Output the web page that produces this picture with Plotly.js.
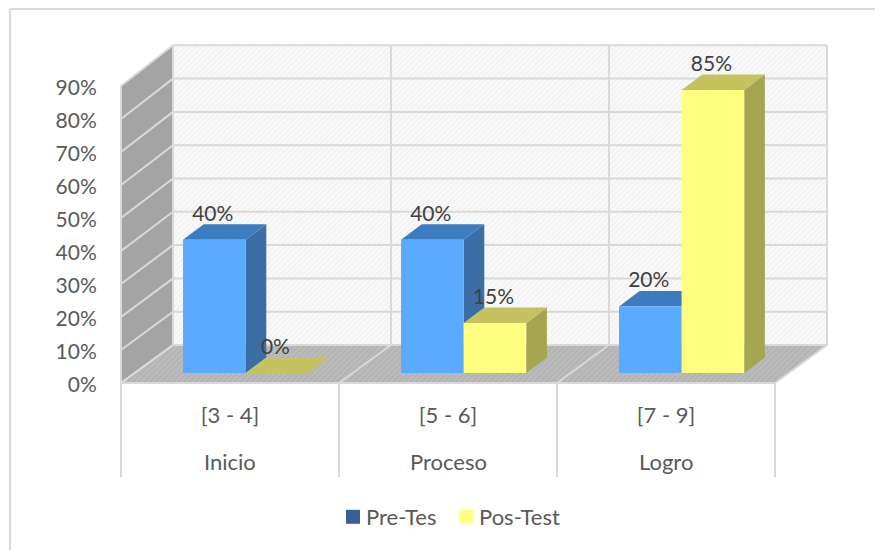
<!DOCTYPE html>
<html>
<head>
<meta charset="utf-8">
<script src="https://cdn.plot.ly/plotly-3.0.1.min.js"></script>
<style>html,body{margin:0;padding:0;background:#fff}#chart{width:875px;height:550px}</style>
</head>
<body>
<div id="chart"></div>
<script>
const categories = ['[3 - 4]', '[5 - 6]', '[7 - 9]'];
const groups = ['Inicio', 'Proceso', 'Logro'];
const preTes = [40, 40, 20];
const posTest = [0, 15, 85];
const tickValues = [0, 10, 20, 30, 40, 50, 60, 70, 80, 90];
const tickLabels = tickValues.map(v => v + '%');
const seriesNames = ['Pre-Tes', 'Pos-Test'];

const W = 875, H = 550;
const FONT = 'Lato, "Open Sans", sans-serif';
const X = px => (px - 230) / 218;
const XW = px => px / 218;
const BAR_SCALE = 3.33, BAR_BASE = 373;
const Y = px => (BAR_BASE - px) / BAR_SCALE;
const TICK_SCALE = 3.3, TICK_BASE = 385;
const xRange = [X(0), X(W)];
const yRange = [Y(H), Y(0)];
const y3Range = [(TICK_BASE - H) / TICK_SCALE, TICK_BASE / TICK_SCALE];
const backY = v => Y(345) + v;
const frontY = v => Y(383 - TICK_SCALE * v);
const barW = XW(62.6), depthX = XW(20.7), depthY = 15.5 / BAR_SCALE;
const preLeft = i => X(183) + i, posLeft = i => X(245.6) + i;

function poly(points, color, pattern) {
  const t = {x: points.map(p => p[0]), y: points.map(p => p[1]), mode: 'none', fill: 'toself',
    fillcolor: color, showlegend: false, hoverinfo: 'skip', xaxis: 'x', yaxis: 'y'};
  if (pattern) t.fillpattern = pattern;
  return t;
}
function lines(segs, color, width) {
  const xs = [], ys = [];
  segs.forEach(s => { xs.push(s[0][0], s[1][0], null); ys.push(s[0][1], s[1][1], null); });
  return {x: xs, y: ys, mode: 'lines', line: {color, width}, showlegend: false, hoverinfo: 'skip', xaxis: 'x', yaxis: 'y'};
}
function boxFaces(values, left, kind) {
  const xs = [], ys = [];
  values.forEach((v, i) => {
    const L = left(i), R = L + barW;
    const pts = kind === 'side'
      ? [[R, 0], [R + depthX, depthY], [R + depthX, v + depthY], [R, v]]
      : [[L, v], [L + depthX, v + depthY], [R + depthX, v + depthY], [R, v]];
    pts.concat([pts[0]]).forEach(p => { xs.push(p[0]); ys.push(p[1]); });
    xs.push(null); ys.push(null);
  });
  return {x: xs, y: ys};
}
function faceTrace(values, left, kind, color) {
  const f = boxFaces(values, left, kind);
  return {x: f.x, y: f.y, mode: 'none', fill: 'toself', fillcolor: color, showlegend: false,
    hoverinfo: 'skip', xaxis: 'x', yaxis: 'y'};
}

const bounds = [0, 1, 2, 3];
const traces = [
  poly([[X(173), backY(0)], [X(827), backY(0)], [X(827), backY(90)], [X(173), backY(90)], [X(173), backY(0)]], '#f7f7f7',
    {shape: '/', size: 4, solidity: 0.3, fgcolor: '#f0f0f0', bgcolor: '#f9f9f9'}),
  poly([[X(121), frontY(0)], [X(173), backY(0)], [X(173), backY(90)], [X(121), frontY(90)], [X(121), frontY(0)]], '#a4a4a4'),
  poly([[X(121), frontY(0)], [X(775), frontY(0)], [X(827), backY(0)], [X(173), backY(0)], [X(121), frontY(0)]], '#b8b8b8',
    {shape: '/', size: 4, solidity: 0.3, fgcolor: '#b0b0b0', bgcolor: '#bbbbbb'}),
  lines(tickValues.map(v => [[X(173), backY(v)], [X(827), backY(v)]]), '#d9d9d9', 2),
  lines(bounds.map(i => [[X(173) + i, backY(0)], [X(173) + i, backY(90)]]), '#d9d9d9', 2),
  lines(tickValues.map(v => [[X(121), frontY(v)], [X(173), backY(v)]]), '#d9d9d9', 2),
  lines(bounds.map(i => [[X(121) + i, frontY(0)], [X(173) + i, backY(0)]]), '#d9d9d9', 2),
  lines([[[X(121), frontY(0)], [X(775), frontY(0)]]], '#d9d9d9', 2),
  lines(bounds.map(i => [[X(121) + i, frontY(0)], [X(121) + i, Y(477)]]), '#d9d9d9', 2),
  lines([[[X(121), frontY(0)], [X(121), frontY(90)]]], '#d9d9d9', 2),
  faceTrace(preTes, preLeft, 'side', '#3a6ea5'),
  faceTrace(preTes, preLeft, 'top', '#3d7cbf'),
  faceTrace(posTest, posLeft, 'side', '#a6a650'),
  faceTrace(posTest, posLeft, 'top', '#c4c35f'),
  {type: 'bar', x: preTes.map((v, i) => preLeft(i) + barW / 2), y: preTes, width: barW,
    marker: {color: '#5aabff', line: {width: 0}}, showlegend: false, hoverinfo: 'skip', xaxis: 'x', yaxis: 'y2'},
  {type: 'bar', x: posTest.map((v, i) => posLeft(i) + barW / 2), y: posTest, width: barW,
    marker: {color: '#ffff80', line: {width: 0}}, showlegend: false, hoverinfo: 'skip', xaxis: 'x', yaxis: 'y2'},
  {x: preTes.map((v, i) => preLeft(i) + barW / 2 - XW(1.5)).concat(posTest.map((v, i) => posLeft(i) + barW / 2 - XW(1.5))),
    y: preTes.concat(posTest).map(v => v + 24.5 / BAR_SCALE),
    text: preTes.concat(posTest).map(v => v + '%'),
    mode: 'text', textposition: 'middle center', textfont: {family: FONT, size: 21, color: '#404040'},
    showlegend: false, hoverinfo: 'skip', xaxis: 'x', yaxis: 'y2'},
  {x: [X(121)], y: [0], mode: 'none', showlegend: false, hoverinfo: 'skip', xaxis: 'x', yaxis: 'y3'},
  {name: seriesNames[0], x: [null], y: [null], mode: 'markers', marker: {symbol: 'square', size: 14, color: '#366092'},
    xaxis: 'x', yaxis: 'y2', hoverinfo: 'skip'},
  {name: seriesNames[1], x: [null], y: [null], mode: 'markers', marker: {symbol: 'square', size: 14, color: '#ffff80'},
    xaxis: 'x', yaxis: 'y2', hoverinfo: 'skip'}
];

const hiddenY = {range: yRange, domain: [0, 1], showgrid: false, zeroline: false, showticklabels: false, ticks: '', showline: false, fixedrange: true};
const layout = {
  width: W, height: H,
  margin: {l: 0, r: 0, t: 0, b: 0},
  paper_bgcolor: '#ffffff', plot_bgcolor: 'rgba(0,0,0,0)',
  barmode: 'overlay',
  font: {family: FONT, size: 21, color: '#595959'},
  xaxis: {range: xRange, domain: [0, 1], anchor: 'free', position: (H - 383) / H,
    tickmode: 'array', tickvals: [0, 1, 2], ticktext: categories,
    tickfont: {family: FONT, size: 22, color: '#595959'},
    ticks: 'outside', ticklen: 13, tickcolor: 'rgba(0,0,0,0)',
    showgrid: false, zeroline: false, showline: false, fixedrange: true},
  yaxis: Object.assign({}, hiddenY),
  yaxis2: Object.assign({}, hiddenY, {overlaying: 'y'}),
  yaxis3: {range: y3Range, domain: [0, 1], overlaying: 'y', anchor: 'free', position: 121 / W, side: 'left',
    tickmode: 'array', tickvals: tickValues, ticktext: tickLabels,
    tickfont: {family: FONT, size: 21, color: '#595959'},
    ticks: 'outside', ticklen: 20, tickcolor: 'rgba(0,0,0,0)',
    showgrid: false, zeroline: false, showline: false, fixedrange: true},
  annotations: groups.map((g, i) => ({text: g, x: i, xref: 'x', y: (H - 461) / H, yref: 'paper',
    xanchor: 'center', yanchor: 'middle', showarrow: false, font: {family: FONT, size: 22, color: '#595959'}})),
  legend: {orientation: 'h', x: 326 / W, xanchor: 'left', y: (H - 517) / H, yanchor: 'middle',
    entrywidth: 68, entrywidthmode: 'pixels',
    font: {family: FONT, size: 22, color: '#595959'}, bgcolor: 'rgba(0,0,0,0)', itemsizing: 'trace'},
  shapes: [
    {type: 'line', xref: 'paper', yref: 'paper', x0: 10 / W, x1: 1, y0: (H - 9) / H, y1: (H - 9) / H, line: {color: '#d9d9d9', width: 2}, layer: 'below'},
    {type: 'line', xref: 'paper', yref: 'paper', x0: 10 / W, x1: 10 / W, y0: 0, y1: (H - 9) / H, line: {color: '#d9d9d9', width: 2}, layer: 'below'}
  ]
};
Plotly.newPlot('chart', traces, layout, {displayModeBar: false, staticPlot: true}).then(() => {
  document.querySelectorAll('#chart .legend .legendpoints').forEach(g => {
    const t = g.getAttribute('transform') || '';
    g.setAttribute('transform', 'translate(7,0) ' + t);
  });
  document.querySelectorAll('#chart .legend .scrollbox, #chart .legend').forEach(g => {
    g.removeAttribute('clip-path');
    g.style.clipPath = 'none';
  });
});
</script>
</body>
</html>
